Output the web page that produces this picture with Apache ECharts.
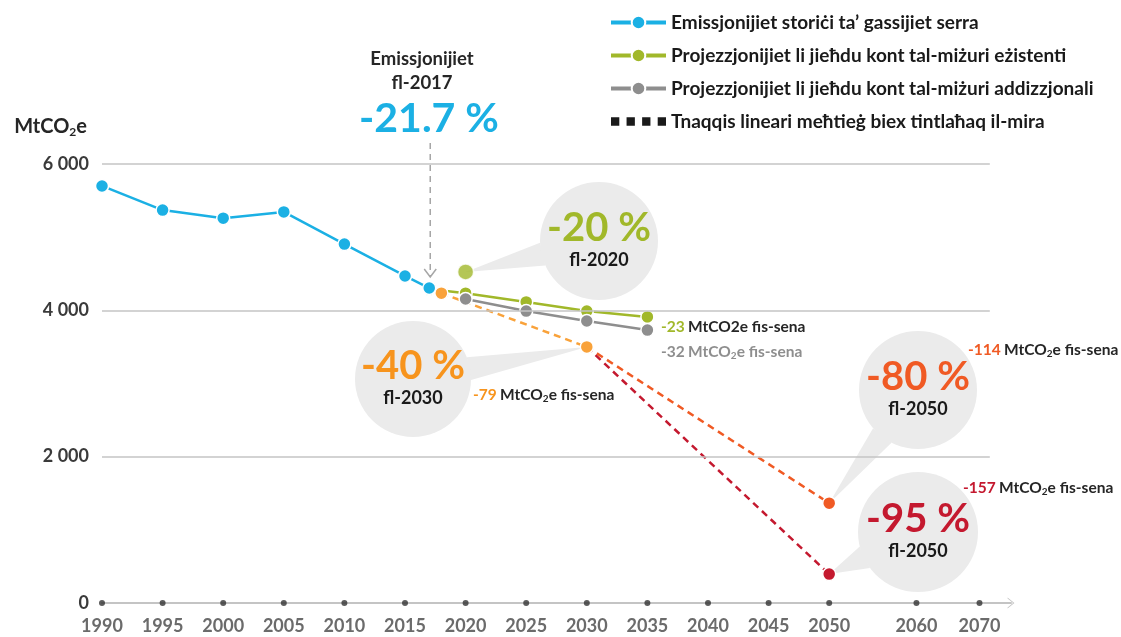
<!DOCTYPE html>
<html>
<head>
<meta charset="utf-8">
<script src="https://cdn.jsdelivr.net/npm/echarts@6/dist/echarts.min.js"></script>
<style>
  html, body { margin: 0; padding: 0; background: #fff; }
  #chart { width: 1121px; height: 637px; }
</style>
</head>
<body>
<div id="chart"></div>
<script>
// assi tas-snin (l-assi huwa maqtugħ wara l-2050)
const axisYears = [1990, 1995, 2000, 2005, 2010, 2015, 2020, 2025, 2030, 2035, 2040, 2045, 2050, 2060, 2070];
const axisSlots = [0, 1, 2, 3, 4, 5, 6, 7, 8, 9, 10, 11, 12, 13.44, 14.48];
const yTicks = [0, 2000, 4000, 6000];

// emissjonijiet storiċi
const histYears = [1990, 1995, 2000, 2005, 2010, 2015, 2017];
const histValues = [5700, 5370, 5260, 5345, 4905, 4470, 4305];
// projezzjonijiet WEM / WAM
const wemYears = [2017, 2020, 2025, 2030, 2035];
const wemValues = [4290, 4235, 4115, 3990, 3910];
const wamYears = [2020, 2025, 2030, 2035];
const wamValues = [4155, 3990, 3855, 3730];
// mira 2020
const target2020 = [2020, 4525];
// tnaqqis lineari
const lin2030Years = [2018, 2030];
const lin2030Values = [4235, 3500];
const lin80Years = [2030, 2050];
const lin80Values = [3500, 1365];
const lin95Years = [2030, 2050];
const lin95Values = [3500, 395];

const names = [
  'Emissjonijiet storiċi ta’ gassijiet serra',
  'Projezzjonijiet li jieħdu kont tal-miżuri eżistenti',
  'Projezzjonijiet li jieħdu kont tal-miżuri addizzjonali',
  'Tnaqqis lineari meħtieġ biex tintlaħaq il-mira'
];

const FONT = 'Lato, "Open Sans", sans-serif';
const DARK = '#262626';
const BLUE = '#1bb0e4', GREEN = '#a1b82a', GREY = '#8e8e8e';
const ORANGE = '#f9a23a', RED1 = '#f05a24', RED2 = '#c4192f';
const GRID_END = 14.65; // it-tarf tal-linji orizzontali

function xPos(year) {
  for (let i = 0; i < axisYears.length - 1; i++) {
    const a = axisYears[i], b = axisYears[i + 1];
    if (year >= a && year <= b) {
      return axisSlots[i] + (year - a) / (b - a) * (axisSlots[i + 1] - axisSlots[i]);
    }
  }
  return axisSlots[axisSlots.length - 1];
}
const pts = (ys, vs) => ys.map((y, i) => [xPos(y), vs[i]]);

const dot = c => ({ color: c, borderColor: '#fff', borderWidth: 1.5 });

// ikona tal-leġenda: erba' kwadri suwed
const squaresIcon = 'path://M0,-3L0.01,-3L0.01,-2.99Z M0,0h8v8h-8Z M15,0h8v8h-8Z M30,0h8v8h-8Z M45,0h8v8h-8Z M0,11L0.01,11L0.01,11.01Z';

const chart = echarts.init(document.getElementById('chart'));
chart.setOption({
  animation: false,
  textStyle: { fontFamily: FONT },
  grid: { left: 102, right: 110, top: 164, bottom: 34 },
  legend: {
    orient: 'vertical',
    left: 604,
    top: 8,
    itemWidth: 55,
    itemHeight: 17,
    itemGap: 14,
    lineStyle: { width: 4 },
    data: names.slice(0, 3).concat([{ name: names[3], icon: squaresIcon }]),
    textStyle: { fontFamily: FONT, fontSize: 19, fontWeight: 'bold', color: '#1a1a1a' }
  },
  xAxis: {
    type: 'value',
    min: 0,
    max: 15,
    splitLine: { show: false },
    axisTick: { show: false },
    axisLine: {
      lineStyle: { color: '#c4c4c4', width: 2 },
      symbol: ['none', 'path://M0,10 L8,0 L16,10 L14.5,10 L8,2 L1.5,10 Z'],
      symbolSize: [11, 7]
    },
    axisLabel: {
      customValues: axisSlots,
      margin: 14,
      fontSize: 18,
      fontWeight: 'bold',
      color: '#6b6b6b',
      formatter: v => {
        const i = axisSlots.findIndex(s => Math.abs(s - v) < 1e-6);
        return i >= 0 ? String(axisYears[i]) : '';
      }
    }
  },
  yAxis: {
    type: 'value',
    min: yTicks[0],
    max: yTicks[yTicks.length - 1],
    interval: yTicks[1] - yTicks[0],
    name: 'MtCO{s|2}e',
    nameLocation: 'end',
    nameGap: 26,
    nameTextStyle: {
      align: 'right',
      padding: [0, 15, 0, 0],
      fontSize: 20,
      fontWeight: 'bold',
      color: DARK,
      rich: { s: { fontSize: 12, fontWeight: 'bold', color: DARK, padding: [10, 0, 0, 0] } }
    },
    axisLine: { show: false },
    axisTick: { show: false },
    splitLine: { show: false },
    axisLabel: {
      margin: 13,
      fontSize: 18,
      fontWeight: 'bold',
      color: '#3a3a3a',
      formatter: v => String(v).replace(/\B(?=(\d{3})+$)/g, ' ')
    }
  },
  series: [
    {
      name: names[0], type: 'line', z: 5,
      data: pts(histYears, histValues),
      symbol: 'circle', symbolSize: 13,
      lineStyle: { color: BLUE, width: 2.5 },
      itemStyle: dot(BLUE)
    },
    {
      name: names[1], type: 'line', z: 4,
      data: pts(wemYears, wemValues),
      symbol: 'circle', symbolSize: 13,
      lineStyle: { color: GREEN, width: 2.5 },
      itemStyle: dot(GREEN)
    },
    {
      name: names[2], type: 'line', z: 4,
      data: pts(wamYears, wamValues),
      symbol: 'circle', symbolSize: 13,
      lineStyle: { color: GREY, width: 2.5 },
      itemStyle: dot(GREY)
    },
    {
      // serje għal-leġenda biss
      name: names[3], type: 'line',
      data: [],
      symbol: 'none',
      lineStyle: { color: '#1a1a1a', width: 6, type: [6, 5] },
      itemStyle: { color: '#1a1a1a' }
    },
    {
      name: 'mira2020', type: 'scatter', z: 5,
      data: [[xPos(target2020[0]), target2020[1]]],
      symbolSize: 16,
      itemStyle: dot(GREEN)
    },
    {
      name: 'lin2030', type: 'line', z: 4,
      data: pts(lin2030Years, lin2030Values),
      symbol: 'circle', symbolSize: 13,
      lineStyle: { color: ORANGE, width: 2.5, type: [7, 5] },
      itemStyle: dot(ORANGE)
    },
    {
      name: 'lin80', type: 'line', z: 3,
      data: pts(lin80Years, lin80Values).map((p, i) => i === 0 ? { value: p, symbol: 'none' } : p),
      symbol: 'circle', symbolSize: 13,
      lineStyle: { color: RED1, width: 2.5, type: [7, 5] },
      itemStyle: dot(RED1)
    },
    {
      name: 'lin95', type: 'line', z: 3,
      data: pts(lin95Years, lin95Values).map((p, i) => i === 0 ? { value: p, symbol: 'none' } : p),
      symbol: 'circle', symbolSize: 13,
      lineStyle: { color: RED2, width: 2.5, type: [7, 5] },
      itemStyle: dot(RED2)
    },
    {
      // tikek fuq l-assi x + linji tal-grilja
      name: 'ticks', type: 'scatter', silent: true, z: 3,
      data: axisSlots.map(s => [s, 0]),
      symbolSize: 6,
      itemStyle: { color: '#333' },
      markLine: {
        silent: true,
        symbol: 'none',
        label: { show: false },
        lineStyle: { color: '#c4c4c4', width: 1.5, type: 'solid' },
        data: yTicks.slice(1).map(v => [{ coord: [0, v] }, { coord: [GRID_END, v] }])
      }
    }
  ]
});

// annotazzjonijiet
const px = (year, v) => chart.convertToPixel({ gridIndex: 0 }, [xPos(year), v]);

function bubble(cx, cy, r, tip, pct, pctColor, yearTxt) {
  const ang = Math.atan2(tip[1] - cy, tip[0] - cx);
  const d = 0.2;
  return [
    {
      type: 'polygon', z: 1,
      shape: { points: [tip, [cx + r * Math.cos(ang - d), cy + r * Math.sin(ang - d)], [cx + r * Math.cos(ang + d), cy + r * Math.sin(ang + d)]] },
      style: { fill: '#ebebeb' }
    },
    { type: 'circle', z: 1, shape: { cx: cx, cy: cy, r: r }, style: { fill: '#ebebeb' } },
    {
      type: 'text', z: 2, x: cx, y: cy - 13,
      style: { text: pct, fill: pctColor, font: 'bold 40px ' + FONT, align: 'center', verticalAlign: 'middle' }
    },
    {
      type: 'text', z: 2, x: cx, y: cy + 19,
      style: { text: yearTxt, fill: '#1a1a1a', font: 'bold 18px ' + FONT, align: 'center', verticalAlign: 'middle' }
    }
  ];
}

function perYear(x, y, num, numColor, restColor, sub) {
  return {
    type: 'text', z: 2, x: x, y: y,
    style: {
      text: '{n|' + num + '} {r|MtCO}' + (sub ? '{s|2}' : '{r|2}') + '{r|e fis-sena}',
      align: 'left', verticalAlign: 'middle',
      rich: {
        n: { fill: numColor, font: 'bold 15.5px ' + FONT },
        r: { fill: restColor, font: 'bold 15.5px ' + FONT },
        s: { fill: restColor, font: 'bold 10px ' + FONT, padding: [7, 0, 0, 0] }
      }
    }
  };
}

const p2017 = px(2017, histValues[histValues.length - 1]);
const arrowX = p2017[0] + 1;
const arrowEnd = p2017[1] - 11;

chart.setOption({
  graphic: [
    { type: 'text', x: 422, y: 59, style: { text: 'Emissjonijiet', fill: DARK, font: 'bold 18.5px ' + FONT, align: 'center', verticalAlign: 'middle' } },
    { type: 'text', x: 422, y: 83, style: { text: 'fl-2017', fill: DARK, font: 'bold 18.5px ' + FONT, align: 'center', verticalAlign: 'middle' } },
    { type: 'text', x: 429, y: 119, style: { text: '-21.7 %', fill: BLUE, font: 'bold 41px ' + FONT, align: 'center', verticalAlign: 'middle' } },
    { type: 'line', z: 1, shape: { x1: arrowX, y1: 143, x2: arrowX, y2: arrowEnd }, style: { stroke: '#a6a6a6', lineWidth: 1.5, lineDash: [6, 5] } },
    { type: 'polyline', z: 1, shape: { points: [[arrowX - 6, arrowEnd - 8], [arrowX, arrowEnd], [arrowX + 6, arrowEnd - 8]] }, style: { stroke: '#a6a6a6', lineWidth: 1.5, fill: null } },
    ...bubble(599, 241, 59, px(target2020[0], target2020[1]), '-20 %', GREEN, 'fl-2020'),
    ...bubble(413, 379, 58, px(2030, lin2030Values[1]), '-40 %', '#f7941d', 'fl-2030'),
    ...bubble(918, 390, 59, px(2050, lin80Values[1]), '-80 %', RED1, 'fl-2050'),
    ...bubble(918, 532, 60, px(2050, lin95Values[1]), '-95 %', RED2, 'fl-2050'),
    perYear(661, 327, '-23', GREEN, DARK, false),
    perYear(661, 352, '-32', GREY, GREY, true),
    perYear(473, 395, '-79', '#f7941d', DARK, true),
    perYear(968, 350, '-114', RED1, DARK, true),
    perYear(963, 488, '-157', RED2, DARK, true)
  ]
});
</script>
</body>
</html>
